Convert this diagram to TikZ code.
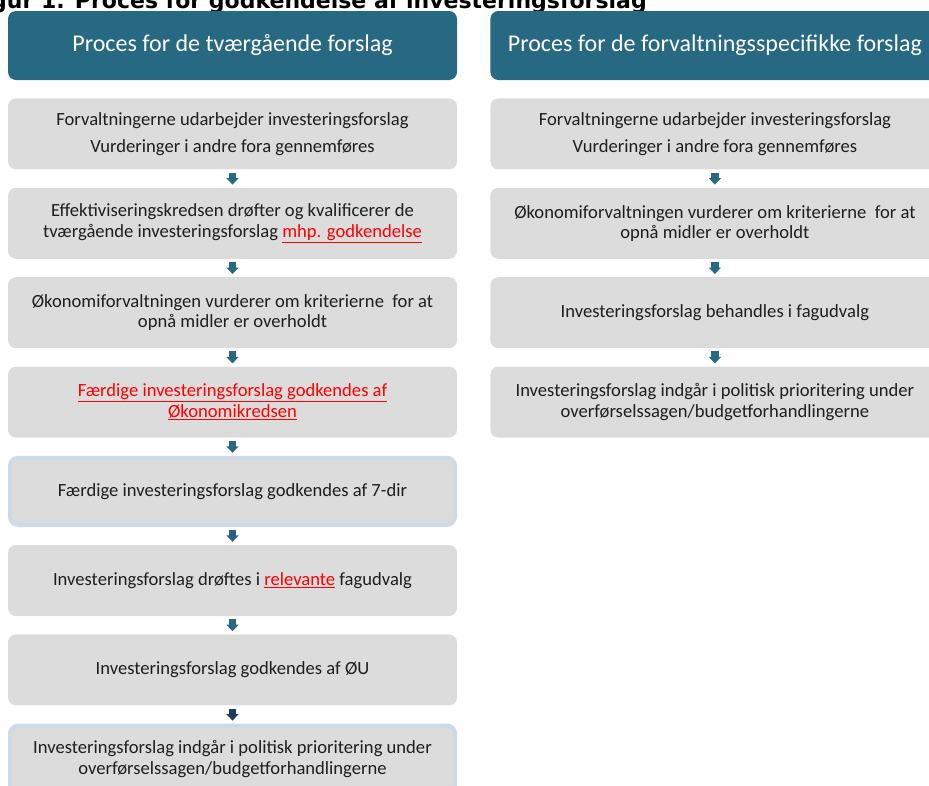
\documentclass[tikz,border=0pt]{standalone}
\usepackage{fontspec}
\setmainfont{Carlito}
\newfontfamily\titelfont{DejaVu Sans}
\usetikzlibrary{arrows.meta,positioning}

\definecolor{hoved}{HTML}{276882}
\definecolor{boks}{HTML}{DCDCDC}
\definecolor{kant}{HTML}{D0D9E8}
\definecolor{txt}{HTML}{1E1E1E}
\definecolor{pilblaa}{HTML}{2E5C8C}
\definecolor{pilnavy}{HTML}{1F3A60}
\definecolor{rod}{HTML}{FF0000}
\newcommand{\roed}[1]{\textcolor{rod}{\underline{#1}}}

\begin{document}
\begin{tikzpicture}[x=1pt,y=-1pt]
				\tikzset{head/.style={fill=hoved,text=white,rounded corners=8pt,minimum width=449pt,minimum height=69pt,inner sep=0pt,font=\fontsize{24}{28}\selectfont},
					block/.style={fill=boks,rounded corners=8pt,minimum width=449pt,minimum height=71pt,inner sep=0pt,align=center,text=txt,font=\fontsize{18.6}{20.5}\selectfont},
					kantblock/.style={block,draw=kant,line width=4pt,minimum width=445pt,minimum height=67pt},
					pil/.style={draw=hoved,line width=7.5pt,-{Triangle[width=12pt,length=6.5pt]},shorten <=3pt,shorten >=3pt}}
				\useasboundingbox (0,0) rectangle (929,785);
				\node [anchor=base east,inner sep=0pt,font=\titelfont\bfseries\fontsize{22}{26}\selectfont] (titel) at (647,8) {Figur 1. Proces for godkendelse af investeringsforslag};
				% venstre kolonne
				\node [head] (hv) at (232.5,45.5) {Proces for de tværgående forslag};
				\node [block, below =18pt of hv] (v1) {Forvaltningerne udarbejder investeringsforslag\\[7pt]Vurderinger i andre fora gennemføres};
				\node [block, below =18pt of v1] (v2) {Effektiviseringskredsen drøfter og kvalificerer de\\tværgående investeringsforslag \roed{mhp. godkendelse}};
				\node [block, below =18pt of v2] (v3) {Økonomiforvaltningen vurderer om kriterierne \ for at\\opnå midler er overholdt};
				\node [block, below =18pt of v3] (v4) {\roed{Færdige investeringsforslag godkendes af}\\\roed{Økonomikredsen}};
				\node [kantblock, below =18pt of v4] (v5) {Færdige investeringsforslag godkendes af 7-dir};
				\node [block, below =18pt of v5] (v6) {Investeringsforslag drøftes i \roed{relevante} fagudvalg};
				\node [block, below =18pt of v6] (v7) {Investeringsforslag godkendes af ØU};
				\node [kantblock, below =18pt of v7] (v8) {Investeringsforslag indgår i politisk prioritering under\\overførselssagen/budgetforhandlingerne};
				% hoejre kolonne
				\node [head, right =33pt of hv] (hh) {Proces for de forvaltningsspecifikke forslag};
				\node [block, right =33pt of v1] (h1) {Forvaltningerne udarbejder investeringsforslag\\[7pt]Vurderinger i andre fora gennemføres};
				\node [block, below =18pt of h1] (h2) {Økonomiforvaltningen vurderer om kriterierne \ for at\\opnå midler er overholdt};
				\node [block, below =18pt of h2] (h3) {Investeringsforslag behandles i fagudvalg};
				\node [block, below =18pt of h3] (h4) {Investeringsforslag indgår i politisk prioritering under\\overførselssagen/budgetforhandlingerne};
				\path (v1) edge[pil] (v2)
							(v2) edge[pil] (v3)
							(v3) edge[pil] (v4)
							(v4) edge[pil] (v5)
							(v5) edge[pil,draw=pilblaa] (v6)
							(v6) edge[pil] (v7)
							(v7) edge[pil,draw=pilnavy] (v8);
				\path (h1) edge[pil] (h2)
							(h2) edge[pil] (h3)
							(h3) edge[pil] (h4);
			\end{tikzpicture}
\end{document}
